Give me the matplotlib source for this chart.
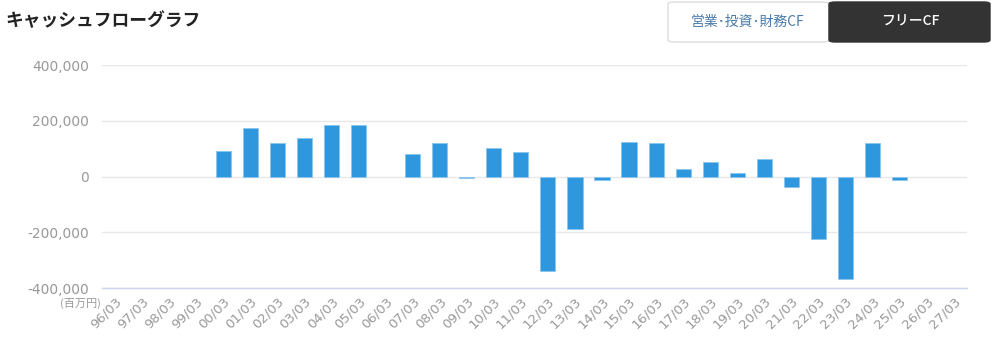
import numpy as np
import matplotlib
matplotlib.use("Agg")
import matplotlib.pyplot as plt
from matplotlib.patches import FancyBboxPatch
from matplotlib.ticker import FuncFormatter

plt.rcParams['font.family'] = ['DejaVu Sans', 'Noto Sans CJK JP']

# =============================================================
# Data (百万円)
# =============================================================
periods = ["96/03", "97/03", "98/03", "99/03", "00/03", "01/03", "02/03", "03/03",
           "04/03", "05/03", "06/03", "07/03", "08/03", "09/03", "10/03", "11/03",
           "12/03", "13/03", "14/03", "15/03", "16/03", "17/03", "18/03", "19/03",
           "20/03", "21/03", "22/03", "23/03", "24/03", "25/03", "26/03", "27/03"]
free_cf = [np.nan, np.nan, np.nan, np.nan, 91000, 175000, 119000, 140000,
           185000, 185000, np.nan, 81000, 119000, -5000, 101000, 88000,
           -339000, -189000, -12000, 126000, 122000, 26000, 52000, 14000,
           64000, -38000, -224000, -367000, 119000, -12000, np.nan, np.nan]
y_ticks = [-400000, -200000, 0, 200000, 400000]

BAR = "#2f97dd"
GRID = "#e8e8e8"
LABEL = "#999999"

fig = plt.figure(figsize=(9.97, 3.43), dpi=100)
ax = fig.add_axes([0.102, 0.160, 0.868, 0.650])

x = np.arange(len(periods))
vals = np.array(free_cf, dtype=float)
mask = ~np.isnan(vals)
ax.bar(x[mask], vals[mask], width=0.56, color=BAR,
       edgecolor="#8cc6ee", linewidth=0.6, zorder=3)

ax.set_xlim(-0.5, len(periods) - 0.5)
ax.set_ylim(-400000, 400000)
ax.set_yticks(y_ticks)
ax.yaxis.set_major_formatter(FuncFormatter(lambda v, p: f"{int(v):,}"))
ax.grid(axis="y", color=GRID, linewidth=1, zorder=0)
ax.set_xticks(x)
ax.set_xticklabels(periods, rotation=45, ha="right", va="top",
                   rotation_mode="anchor", fontsize=9.5)

for side in ["top", "right", "left"]:
    ax.spines[side].set_visible(False)
ax.spines["bottom"].set_color("#ccd6eb")
ax.spines["bottom"].set_linewidth(1)
ax.tick_params(axis="both", length=0, colors=LABEL)
ax.tick_params(axis="y", pad=9, labelsize=10)
ax.tick_params(axis="x", pad=5)

fig.text(0.101, 1 - 303 / 343, "(百万円)", ha="right", va="center",
         fontsize=8, color=LABEL, family=["Noto Sans CJK JP"])

# title
fig.text(0.005, 0.938, "キャッシュフローグラフ", ha="left", va="center",
         fontsize=12.8, fontweight="bold", color="#222222",
         family=["Noto Sans CJK JP"])

# toggle buttons
W, H = 997.0, 343.0
btn_l = FancyBboxPatch((668 / W, 1 - 42 / H), 161 / W, 40 / H,
                       boxstyle="round,pad=0,rounding_size=0.006",
                       transform=fig.transFigure, facecolor="white",
                       edgecolor="#dddddd", linewidth=1)
btn_r = FancyBboxPatch((829 / W, 1 - 42 / H), 161 / W, 40 / H,
                       boxstyle="round,pad=0,rounding_size=0.006",
                       transform=fig.transFigure, facecolor="#333333",
                       edgecolor="#333333", linewidth=1)
fig.patches.extend([btn_l, btn_r])
fig.text(748 / W, 1 - 22 / H, "営業･投資･財務CF", ha="center", va="center",
         fontsize=10, color="#4a7aaa", family=["Noto Sans CJK JP"])
fig.text(910 / W, 1 - 22 / H, "フリーCF", ha="center", va="center",
         fontsize=10, color="white", fontweight="medium",
         family=["Noto Sans CJK JP"])

fig.savefig("out.png", dpi=100)
